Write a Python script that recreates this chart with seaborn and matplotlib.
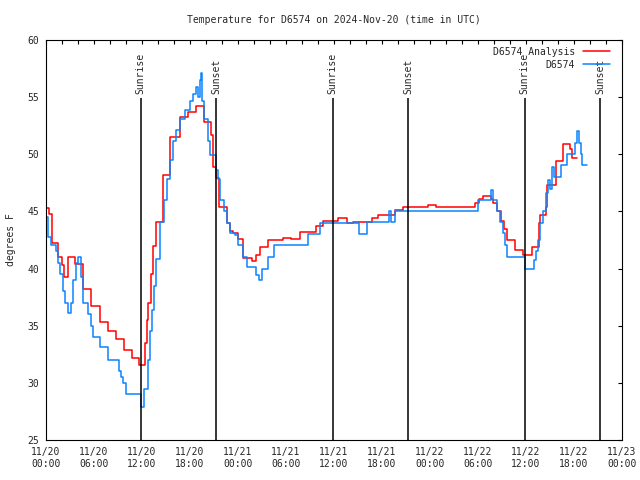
import pandas as pd
import seaborn as sns
import matplotlib
matplotlib.use("Agg")
import matplotlib.pyplot as plt
import matplotlib.dates as mdates

# hours after 2024-11-20 00:00 UTC, degrees F
analysis_hours = [0.0, 0.4, 0.8, 1.5, 2.0, 2.25, 2.8, 3.6, 4.6, 5.6, 6.7, 7.7, 8.75, 9.75,
                  10.8, 11.6, 12.4, 12.6, 12.8, 13.1, 13.4, 13.75, 14.6, 15.5, 16.75, 17.75,
                  18.8, 19.75, 20.6, 20.85, 21.3, 21.6, 22.6, 23.0, 23.4, 24.0, 24.6, 25.75,
                  26.3, 26.75, 27.75, 29.6, 30.6, 31.75, 33.75, 34.6, 36.5, 37.6, 38.4, 40.7,
                  41.5, 43.6, 44.6, 47.75, 48.75, 53.6, 54.1, 54.6, 55.6, 55.9, 56.4, 56.9,
                  57.3, 57.6, 58.6, 59.6, 60.7, 61.6, 61.75, 62.5, 62.6, 63.75, 64.6, 65.5,
                  65.75, 66.4]
analysis_temp = [45.3, 44.8, 42.2, 41.0, 40.3, 39.3, 41.0, 40.4, 38.2, 36.7, 35.3, 34.5, 33.8, 32.9,
                 32.2, 31.6, 33.5, 35.5, 37.0, 39.5, 42.0, 44.1, 48.2, 51.5, 53.3, 53.7,
                 54.2, 52.8, 51.7, 48.9, 47.9, 45.4, 44.0, 43.3, 43.1, 42.6, 40.9, 40.7,
                 41.2, 41.9, 42.5, 42.7, 42.6, 43.2, 43.75, 44.2, 44.4, 44.0, 44.1, 44.45,
                 44.7, 45.1, 45.35, 45.6, 45.35, 45.7, 46.05, 46.35, 46.05, 45.7, 45.0, 44.2,
                 43.5, 42.5, 41.6, 41.2, 41.9, 44.0, 44.7, 45.4, 47.3, 49.4, 50.9, 50.5,
                 49.65, 49.65]

obs_hours = [0.0, 0.3, 0.6, 1.2, 1.5, 1.8, 2.1, 2.4, 2.8, 3.1, 3.4, 3.7, 4.0, 4.4, 4.6, 5.3,
             5.6, 5.9, 6.75, 7.75, 9.1, 9.4, 9.6, 10.0, 11.9, 12.3, 12.7, 13.0, 13.2, 13.5,
             13.8, 14.3, 14.7, 15.1, 15.5, 15.9, 16.3, 16.75, 17.4, 18.0, 18.4, 18.8, 19.0,
             19.2, 19.35, 19.5, 19.75, 20.2, 20.5, 21.25, 21.5, 21.75, 22.2, 22.6, 23.0, 23.6,
             24.0, 24.6, 25.1, 26.3, 26.6, 27.0, 27.8, 28.5, 32.8, 34.25, 39.1, 40.1, 42.9,
             43.1, 43.6, 54.0, 55.6, 55.9, 56.4, 56.75, 57.1, 57.4, 57.6, 59.9, 61.0, 61.3,
             61.5, 61.8, 62.1, 62.5, 62.75, 63.0, 63.25, 63.5, 64.4, 65.1, 66.1, 66.4, 66.6,
             66.9, 67.0, 67.6]
obs_temp = [44.5, 42.8, 42.1, 41.5, 40.5, 39.5, 38.0, 37.0, 36.1, 37.0, 39.0, 40.5, 41.0, 39.3,
            37.0, 36.0, 35.0, 34.0, 33.1, 32.0, 31.0, 30.5, 30.0, 29.0, 27.9, 29.5, 32.0, 34.5,
            36.4, 38.5, 40.8, 44.1, 46.0, 47.8, 49.5, 51.2, 52.1, 53.1, 53.9, 54.7, 55.3, 55.9,
            55.0, 56.5, 57.1, 54.7, 53.1, 51.2, 49.9, 48.6, 47.8, 46.0, 45.0, 44.0, 43.1, 42.9,
            42.1, 41.0, 40.1, 39.4, 39.0, 40.0, 41.0, 42.1, 43.0, 44.0, 43.0, 44.05, 45.0,
            44.05, 45.0, 46.0, 46.9, 46.0, 45.0, 44.1, 43.1, 42.1, 41.0, 40.0, 40.75, 41.5,
            42.5, 44.0, 45.0, 46.6, 47.75, 47.0, 48.9, 48.0, 49.05, 50.0, 50.95, 52.0, 51.0,
            50.0, 49.05, 49.05]

sun_hours = [11.83, 21.25, 35.83, 45.25, 59.83, 69.25]
sun_labels = ["Sunrise", "Sunset", "Sunrise", "Sunset", "Sunrise", "Sunset"]

start = pd.Timestamp("2024-11-20 00:00")
to_time = lambda h: start + pd.to_timedelta(h, unit="h")

sns.set_theme(style="white")
plt.rcParams["font.family"] = ["DejaVu Sans Mono"]
plt.rcParams["font.size"] = 7

fig = plt.figure(figsize=(6.4, 4.8), dpi=100)
ax = fig.add_axes([46 / 640, 40 / 480, 576 / 640, 400 / 480])

ana = pd.DataFrame({"time": to_time(pd.Series(analysis_hours)), "temp": analysis_temp})
obs = pd.DataFrame({"time": to_time(pd.Series(obs_hours)), "temp": obs_temp})

sns.lineplot(data=ana, x="time", y="temp", ax=ax, color="#ff0000", lw=1.1,
             drawstyle="steps-post", estimator=None, label="D6574 Analysis")
sns.lineplot(data=obs, x="time", y="temp", ax=ax, color="#0a84ff", lw=1.1,
             drawstyle="steps-post", estimator=None, label="D6574")

for h, lab in zip(sun_hours, sun_labels):
    t = to_time(h)
    ax.vlines(t, 25, 54.9, color="black", lw=1.1)
    ax.text(t, 55.25, lab, rotation=90, ha="center", va="bottom", fontsize=7)

ax.set_xlim(start, start + pd.Timedelta(hours=72))
ax.set_ylim(25, 60)
ax.set_yticks(range(25, 61, 5))
ax.xaxis.set_major_locator(mdates.HourLocator(byhour=[0, 6, 12, 18]))
ax.xaxis.set_minor_locator(mdates.HourLocator(interval=2))
ax.xaxis.set_major_formatter(mdates.DateFormatter("%m/%d\n%H:%M"))
ax.tick_params(which="both", direction="in", top=True, right=True, length=3,
               width=0.8, color="black", labelsize=7, pad=5)
ax.set_xlabel("")
ax.set_ylabel("")
for s in ax.spines.values():
    s.set_color("black")
    s.set_linewidth(0.8)

ax.legend(loc="upper right", bbox_to_anchor=(1 - 5 / 576, 1.0), frameon=False,
          markerfirst=False, handlelength=2.8, handletextpad=0.8, labelspacing=0.3,
          borderaxespad=0.3, fontsize=7)

fig.text(334 / 640, 1 - 20 / 480, "Temperature for D6574 on 2024-Nov-20 (time in UTC)",
         ha="center", va="center", fontsize=7)
fig.text(11 / 640, 0.5, "degrees F", rotation=90, ha="center", va="center", fontsize=7)

fig.savefig("out.png", dpi=100)
